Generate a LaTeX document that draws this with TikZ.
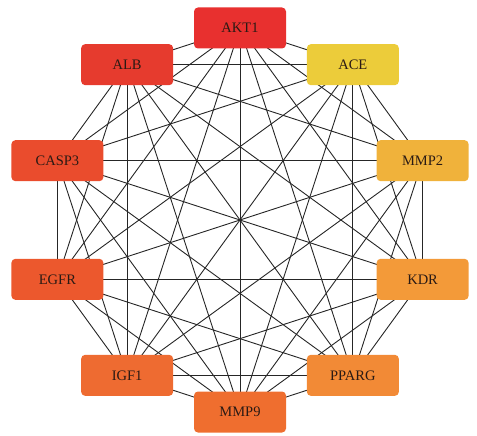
\documentclass[tikz,border=0pt]{standalone}
\usepackage{fontspec}
\setmainfont{Liberation Serif}
\usepackage{xcolor}
\usetikzlibrary{backgrounds}
\definecolor{hubA}{HTML}{E8302F}
\definecolor{hubB}{HTML}{E63B2E}
\definecolor{hubC}{HTML}{EA4C2D}
\definecolor{hubD}{HTML}{EC582D}
\definecolor{hubE}{HTML}{EE6B31}
\definecolor{hubF}{HTML}{EF6E2F}
\definecolor{hubG}{HTML}{F28A36}
\definecolor{hubH}{HTML}{F39A39}
\definecolor{hubI}{HTML}{F0B23B}
\definecolor{hubJ}{HTML}{ECCC3A}
\definecolor{ink}{HTML}{2A1A14}
\definecolor{wire}{HTML}{262626}
\tikzset{
    every picture/.style={line cap=round,line join=round},
    genebox/.style={rounded corners=4pt,minimum width=92pt,minimum height=41pt,
      inner sep=2pt,text=ink,font=\fontsize{14.5}{16}\selectfont},
    ppiedge/.style={draw=wire,line width=0.9pt}
}
\begin{document}
\begin{tikzpicture}[x=1pt,y=-1pt]
  \useasboundingbox (0,0) rectangle (477,436);
  % ten hub genes on a circle, strongest at the top
  \foreach \i/\a/\g/\c in {0/90/AKT1/hubA,1/54/ACE/hubJ,2/18/MMP2/hubI,
      3/-18/KDR/hubH,4/-54/PPARG/hubG,5/-90/MMP9/hubF,6/-126/IGF1/hubE,
      7/-162/EGFR/hubD,8/162/CASP3/hubC,9/126/ALB/hubB} {
    \node[genebox,fill=\c] (g\i) at ({240+192*cos(\a)},{220-192*sin(\a)}) {\g};
  }
  % every pair is linked
  \begin{scope}[on background layer]
    \foreach \i in {1,...,9} {
      \pgfmathtruncatemacro\k{\i-1}
      \foreach \j in {0,...,\k} {
        \draw[ppiedge] (g\i.center) -- (g\j.center);
      }
    }
  \end{scope}
\end{tikzpicture}
\end{document}
